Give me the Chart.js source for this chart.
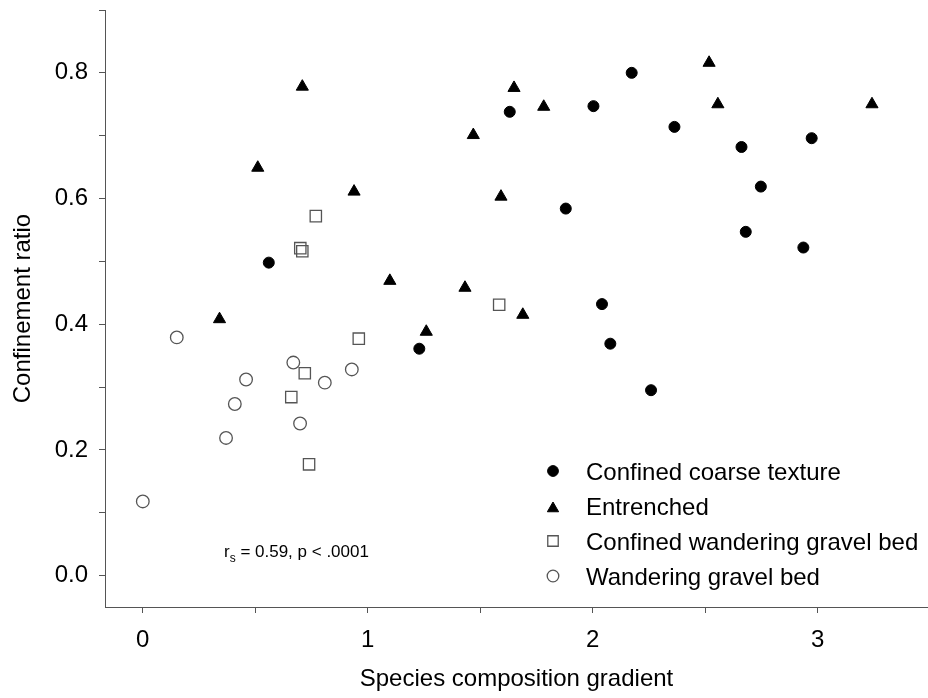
<!DOCTYPE html>
<html>
<head>
<meta charset="utf-8">
<script src="https://cdn.jsdelivr.net/npm/chart.js@4/dist/chart.umd.min.js"></script>
<style>
  html, body { margin: 0; padding: 0; background: #fff; }
  #wrap { width: 928px; height: 698px; position: relative; }
</style>
</head>
<body>
<div id="wrap"><canvas id="confinement"></canvas></div>
<script>
// Species composition gradient (x) vs confinement ratio (y), by channel type
const coarseX = [0.56, 1.229, 1.631, 1.88, 2.003, 2.041, 2.078, 2.173, 2.259, 2.363, 2.661, 2.68, 2.747, 2.936, 2.973];
const coarseY = [0.498, 0.361, 0.738, 0.584, 0.747, 0.432, 0.369, 0.8, 0.295, 0.714, 0.682, 0.547, 0.619, 0.522, 0.696];

const entrenchedX = [0.341, 0.511, 0.709, 0.939, 1.098, 1.26, 1.432, 1.469, 1.592, 1.65, 1.689, 1.782, 2.517, 2.556, 3.241];
const entrenchedY = [0.408, 0.649, 0.778, 0.611, 0.469, 0.388, 0.458, 0.701, 0.603, 0.776, 0.415, 0.746, 0.816, 0.75, 0.75];

const confWanderX = [0.66, 0.7, 0.709, 0.72, 0.739, 0.769, 0.96, 1.584];
const confWanderY = [0.284, 0.521, 0.516, 0.322, 0.177, 0.572, 0.377, 0.431];

const wanderX = [0.0, 0.151, 0.37, 0.409, 0.459, 0.669, 0.699, 0.809, 0.929];
const wanderY = [0.118, 0.379, 0.219, 0.273, 0.312, 0.339, 0.242, 0.307, 0.328];

const seriesNames = [
  "Confined coarse texture",
  "Entrenched",
  "Confined wandering gravel bed",
  "Wandering gravel bed",
];

const xTickValues = [0, 0.5, 1, 1.5, 2, 2.5, 3];
const xTickLabels = ["0", "", "1", "", "2", "", "3"];
const yTickValues = [0, 0.1, 0.2, 0.3, 0.4, 0.5, 0.6, 0.7, 0.8, 0.9];
const yTickLabels = ["0.0", "", "0.2", "", "0.4", "", "0.6", "", "0.8", ""];

const statText = { r: "r", sub: "s", rest: " = 0.59, p < .0001" };

const FONT = '"Liberation Sans", Arial, Helvetica, sans-serif';
const AXIS_GREY = "#555";

function pairs(xs, ys) {
  return xs.map((x, i) => ({ x, y: ys[i] }));
}

// marker look per series, reused for the legend
const markerStyles = [
  { pointStyle: "circle", radius: 5.5, fill: "#000", stroke: "#000", width: 1, legendRadius: 5.4 },
  { pointStyle: "triangle", radius: 7, fill: "#000", stroke: "#000", width: 1, legendRadius: 6.5 },
  { pointStyle: "rect", radius: 8, fill: "rgba(0,0,0,0)", stroke: AXIS_GREY, width: 1.3, legendRadius: 7.4 },
  { pointStyle: "circle", radius: 6.3, fill: "rgba(0,0,0,0)", stroke: AXIS_GREY, width: 1.3, legendRadius: 5.8 },
];

const seriesData = [
  pairs(coarseX, coarseY),
  pairs(entrenchedX, entrenchedY),
  pairs(confWanderX, confWanderY),
  pairs(wanderX, wanderY),
];

const datasets = seriesData.map((data, i) => {
  const m = markerStyles[i];
  return {
    label: seriesNames[i],
    data,
    pointStyle: m.pointStyle,
    pointRadius: m.radius,
    backgroundColor: m.fill,
    borderColor: m.stroke,
    borderWidth: m.width,
  };
});

// legend box inside the plot, lower right
const legendBox = { markerX: 553, textX: 586, firstRow: 471, rowGap: 35 };

const insetLegend = {
  id: "insetLegend",
  afterDraw(chart) {
    const ctx = chart.ctx;
    ctx.save();
    ctx.font = `24px ${FONT}`;
    ctx.textBaseline = "alphabetic";
    ctx.textAlign = "left";
    seriesNames.forEach((name, i) => {
      const m = markerStyles[i];
      const y = legendBox.firstRow + i * legendBox.rowGap;
      const my = m.pointStyle === "triangle" ? y + 2.5 : y;
      ctx.fillStyle = m.fill;
      ctx.strokeStyle = m.stroke;
      ctx.lineWidth = m.width;
      Chart.helpers.drawPoint(ctx, {
        pointStyle: m.pointStyle,
        radius: m.legendRadius,
        rotation: 0,
        borderWidth: m.width,
      }, legendBox.markerX, my);
      ctx.fillStyle = "#000";
      ctx.fillText(name, legendBox.textX, y + 8.6);
    });
    ctx.restore();
  },
};

// Spearman correlation note, with subscript s
const statNote = {
  id: "statNote",
  afterDraw(chart) {
    const ctx = chart.ctx;
    ctx.save();
    ctx.fillStyle = "#000";
    ctx.textBaseline = "alphabetic";
    let x = 224;
    const base = 557;
    ctx.font = `17px ${FONT}`;
    ctx.fillText(statText.r, x, base);
    x += ctx.measureText(statText.r).width;
    ctx.font = `12px ${FONT}`;
    ctx.fillText(statText.sub, x, base + 5);
    x += ctx.measureText(statText.sub).width;
    ctx.font = `17px ${FONT}`;
    ctx.fillText(statText.rest, x, base);
    ctx.restore();
  },
};

new Chart(document.getElementById("confinement"), {
  type: "scatter",
  data: { datasets },
  plugins: [insetLegend, statNote],
  options: {
    responsive: true,
    maintainAspectRatio: false,
    animation: false,
    events: [],
    layout: { autoPadding: false, padding: { left: 0, top: 10, right: 0, bottom: 0 } },
    plugins: {
      legend: { display: false },
      tooltip: { enabled: false },
    },
    scales: {
      x: {
        type: "linear",
        position: "bottom",
        min: -0.168,
        max: 3.49,
        afterBuildTicks: (scale) => {
          scale.ticks = xTickValues.map((v) => ({ value: v }));
        },
        afterFit: (scale) => {
          scale.height = 91;
          scale.paddingLeft = 0;
          scale.paddingRight = 0;
        },
        grid: {
          drawOnChartArea: false,
          drawTicks: true,
          tickLength: 6,
          tickColor: AXIS_GREY,
          tickWidth: 1,
        },
        border: { display: true, color: AXIS_GREY, width: 1 },
        ticks: {
          autoSkip: false,
          maxRotation: 0,
          padding: 13,
          color: "#000",
          font: { family: FONT, size: 24 },
          callback: (v, i) => xTickLabels[i],
        },
        title: {
          display: true,
          text: "Species composition gradient",
          color: "#000",
          font: { family: FONT, size: 24 },
          padding: { top: 0, bottom: 4 },
        },
      },
      y: {
        type: "linear",
        position: "left",
        min: -0.05,
        max: 0.9,
        afterBuildTicks: (scale) => {
          scale.ticks = yTickValues.map((v) => ({ value: v }));
        },
        afterFit: (scale) => {
          scale.width = 105;
          scale.paddingTop = 0;
          scale.paddingBottom = 0;
        },
        grid: {
          drawOnChartArea: false,
          drawTicks: true,
          tickLength: 6,
          tickColor: AXIS_GREY,
          tickWidth: 1,
        },
        border: { display: true, color: AXIS_GREY, width: 1 },
        ticks: {
          autoSkip: false,
          padding: 11,
          color: "#000",
          font: { family: FONT, size: 24 },
          callback: (v, i) => yTickLabels[i],
        },
        title: {
          display: true,
          text: "Confinement ratio",
          color: "#000",
          font: { family: FONT, size: 24 },
          padding: { top: 9, bottom: 0 },
        },
      },
    },
  },
});
</script>
</body>
</html>
